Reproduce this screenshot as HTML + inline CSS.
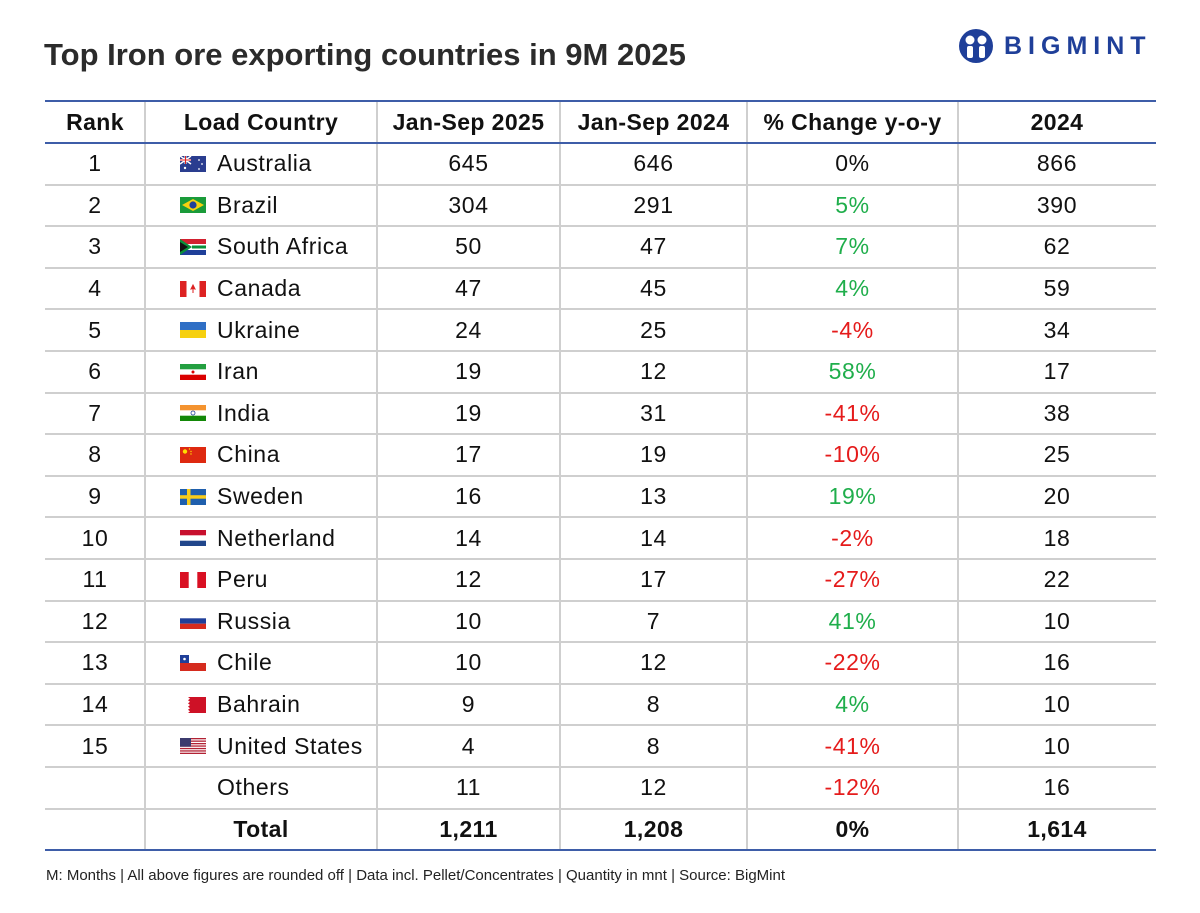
<!DOCTYPE html>
<html><head><meta charset="utf-8"><style>
*{margin:0;padding:0;box-sizing:border-box}
body{width:1200px;height:913px;background:#fff;position:relative;font-family:"Liberation Sans",Arial,sans-serif;overflow:hidden}
.title{position:absolute;left:44px;top:37px;font-size:31px;font-weight:bold;color:#2b2b2b;letter-spacing:0px}
.logo{position:absolute;left:958px;top:28px;display:flex;align-items:center}
.logo span{font-size:25px;font-weight:bold;color:#1f3f99;letter-spacing:6px;margin-left:10px}
.hl{position:absolute;left:45px;width:1111px;height:2px;background:#3e5da8}
.gl{position:absolute;left:45px;width:1111px;height:2px;background:#cfcfcf}
.vl{position:absolute;top:101px;height:749px;width:2px;background:#cfcfcf}
.cell{position:absolute;height:41.6px;display:flex;align-items:center;justify-content:center;font-size:23px;letter-spacing:0.6px;color:#111}
.hdr{font-weight:bold;letter-spacing:0.4px}
.ctry{justify-content:flex-start}
.flag{width:26px;height:16px;margin-left:35px;margin-right:11px;display:inline-block}
.g{color:#1fae4b}.r{color:#e51b1b}
.foot{position:absolute;left:46px;top:867px;font-size:15px;color:#222}
</style></head><body>
<div class="title">Top Iron ore exporting countries in 9M 2025</div>
<div class="logo">
<svg width="36" height="36" viewBox="0 0 36 36"><circle cx="18" cy="18" r="17" fill="#1f3f99"/><circle cx="12" cy="12" r="4.5" fill="#fff"/><circle cx="24" cy="12" r="4.5" fill="#fff"/><rect x="9" y="18" width="6" height="12" rx="2" fill="#fff"/><rect x="21" y="18" width="6" height="12" rx="2" fill="#fff"/></svg>
<span>BIGMINT</span></div>
<div id="tbl"></div>
<div class="foot">M: Months | All above figures are rounded off | Data incl. Pellet/Concentrates | Quantity in mnt | Source: BigMint</div>
<script>
const ranks=["1","2","3","4","5","6","7","8","9","10","11","12","13","14","15","",""];
const countries=["Australia","Brazil","South Africa","Canada","Ukraine","Iran","India","China","Sweden","Netherland","Peru","Russia","Chile","Bahrain","United States","Others","Total"];
const y2025=["645","304","50","47","24","19","19","17","16","14","12","10","10","9","4","11","1,211"];
const y2024p=["646","291","47","45","25","12","31","19","13","14","17","7","12","8","8","12","1,208"];
const changes=["0%","5%","7%","4%","-4%","58%","-41%","-10%","19%","-2%","-27%","41%","-22%","4%","-41%","-12%","0%"];
const full2024=["866","390","62","59","34","17","38","25","20","18","22","10","16","10","10","16","1,614"];
const flags={
Australia:'<rect width="26" height="16" fill="#2a3d8f"/><path d="M0 0L11 8M11 0L0 8" stroke="#fff" stroke-width="1.5"/><path d="M5.5 0V8M0 4H11" stroke="#fff" stroke-width="2"/><path d="M5.5 0V8M0 4H11" stroke="#d22" stroke-width="1"/><circle cx="5" cy="12" r="1.2" fill="#fff"/><circle cx="19" cy="4" r="0.9" fill="#fff"/><circle cx="22" cy="8" r="0.9" fill="#fff"/><circle cx="19" cy="13" r="0.9" fill="#fff"/>',
Brazil:'<rect width="26" height="16" fill="#1a9b3a"/><path d="M13 2L24 8L13 14L2 8Z" fill="#f6d00f"/><circle cx="13" cy="8" r="3.6" fill="#1f3f99"/>',
"South Africa":'<rect width="26" height="16" fill="#fff"/><rect width="26" height="5" fill="#d2202f"/><rect y="11" width="26" height="5" fill="#1f3f99"/><path d="M0 0L12 8L0 16Z" fill="#0a8f3a"/><path d="M0 3L8 8L0 13Z" fill="#111"/><path d="M12 6.5H26V9.5H12Z" fill="#0a8f3a"/>',
Canada:'<rect width="26" height="16" fill="#fff"/><rect width="6.5" height="16" fill="#d22"/><rect x="19.5" width="6.5" height="16" fill="#d22"/><path d="M13 4L15 8L13 7.5L11 8Z M13 7V12" stroke="#d22" fill="#d22"/>',
Ukraine:'<rect width="26" height="8" fill="#2f6fc5"/><rect y="8" width="26" height="8" fill="#f6d00f"/>',
Iran:'<rect width="26" height="16" fill="#fff"/><rect width="26" height="5.3" fill="#239f40"/><rect y="10.7" width="26" height="5.3" fill="#da0000"/><circle cx="13" cy="8" r="1.5" fill="#da0000"/>',
India:'<rect width="26" height="16" fill="#fff"/><rect width="26" height="5.3" fill="#f4932f"/><rect y="10.7" width="26" height="5.3" fill="#138808"/><circle cx="13" cy="8" r="2" fill="none" stroke="#1f3f99" stroke-width="0.8"/>',
China:'<rect width="26" height="16" fill="#de2910"/><circle cx="5" cy="4.5" r="2.2" fill="#ffde00"/><circle cx="9.5" cy="2" r="0.7" fill="#ffde00"/><circle cx="11" cy="4.5" r="0.7" fill="#ffde00"/><circle cx="11" cy="7" r="0.7" fill="#ffde00"/>',
Sweden:'<rect width="26" height="16" fill="#1f5fad"/><rect x="7" width="3.5" height="16" fill="#f8cc1b"/><rect y="6.2" width="26" height="3.5" fill="#f8cc1b"/>',
Netherland:'<rect width="26" height="16" fill="#fff"/><rect width="26" height="5.3" fill="#c8102e"/><rect y="10.7" width="26" height="5.3" fill="#21468b"/>',
Peru:'<rect width="26" height="16" fill="#fff"/><rect width="8.7" height="16" fill="#d91023"/><rect x="17.3" width="8.7" height="16" fill="#d91023"/>',
Russia:'<rect width="26" height="16" fill="#fff"/><rect y="5.3" width="26" height="5.4" fill="#1f3f99"/><rect y="10.7" width="26" height="5.3" fill="#d52b1e"/>',
Chile:'<rect width="26" height="16" fill="#fff"/><rect y="8" width="26" height="8" fill="#d52b1e"/><rect width="9" height="8" fill="#1f3f99"/><circle cx="4.5" cy="4" r="1.3" fill="#fff"/>',
Bahrain:'<rect width="26" height="16" fill="#ce1126"/><path d="M0 0H8L10 1.6L8 3.2L10 4.8L8 6.4L10 8L8 9.6L10 11.2L8 12.8L10 14.4L8 16H0Z" fill="#fff"/>',
"United States":'<rect width="26" height="16" fill="#fff"/><g fill="#b22234"><rect y="0" width="26" height="1.3"/><rect y="2.5" width="26" height="1.3"/><rect y="5" width="26" height="1.3"/><rect y="7.4" width="26" height="1.3"/><rect y="9.9" width="26" height="1.3"/><rect y="12.3" width="26" height="1.3"/><rect y="14.7" width="26" height="1.3"/></g><rect width="11" height="8.7" fill="#3c3b6e"/>'
};
const T=document.getElementById('tbl');
const top0=101,hh=42,rh=41.6;
const cols=[[45,145],[145,377],[377,560],[560,747],[747,958],[958,1156]];
function cell(ci,y,html,cls){
 const d=document.createElement('div');
 d.className='cell '+(cls||'');
 d.style.left=cols[ci][0]+'px';d.style.width=(cols[ci][1]-cols[ci][0])+'px';d.style.top=y+'px';
 d.innerHTML=html;
 
 
 T.appendChild(d);return d;
}
const heads=["Rank","Load Country","Jan-Sep 2025","Jan-Sep 2024","% Change y-o-y","2024"];
heads.forEach((h,i)=>{const c=cell(i,top0,h,'hdr');c.style.height=hh+'px';});
for(let i=0;i<countries.length;i++){
 const y=top0+hh+i*rh;
 const tot=countries[i]==="Total";
 const b=tot?' hdr':'';
 cell(0,y,ranks[i],b);
 let ch;
 if(tot) ch=cell(1,y,'Total','hdr');
 else{
  const f=flags[countries[i]];
  const fl=f?'<svg class="flag" viewBox="0 0 26 16">'+f+'</svg>':'<span class="flag"></span>';
  ch=cell(1,y,fl+'<span>'+countries[i]+'</span>','ctry');
 }
 
 cell(2,y,y2025[i],b);
 cell(3,y,y2024p[i],b);
 const v=parseFloat(changes[i]);
 const cc=cell(4,y,changes[i],(tot?'hdr':'')+(v>0?' g':v<0?' r':''));
 
 cell(5,y,full2024[i],b);
 if(i<countries.length-1){
  const l=document.createElement('div');l.className='gl';l.style.top=(y+rh-1)+'px';
  
  
  T.appendChild(l);
 }
}
[145,377,560,747,958].forEach(x=>{const v=document.createElement('div');v.className='vl';v.style.left=(x-1)+'px';
 
 
 T.appendChild(v);});
[top0-1,top0+hh-1,top0+hh+countries.length*rh-1].forEach(y=>{const l=document.createElement('div');l.className='hl';l.style.top=y+'px';
 
 
 T.appendChild(l);});
</script>
</body></html>
